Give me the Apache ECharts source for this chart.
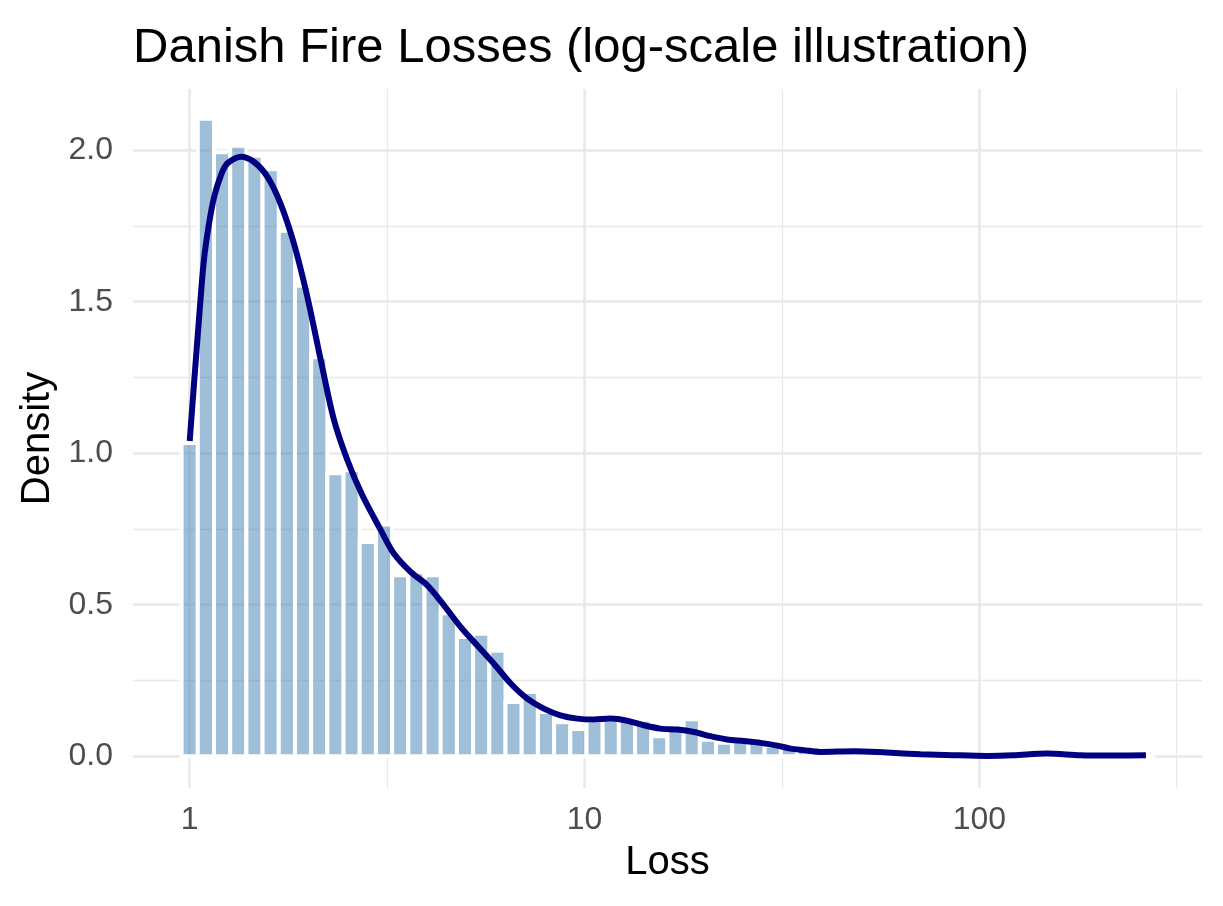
<!DOCTYPE html>
<html>
<head>
<meta charset="utf-8">
<title>Danish Fire Losses</title>
<script src="https://cdn.jsdelivr.net/npm/echarts@6/dist/echarts.min.js"></script>
<style>
  html, body { margin: 0; padding: 0; background: #fff; }
  #chart { width: 1223px; height: 906px; }
</style>
</head>
<body>
<div id="chart"></div>
<script>
// histogram on log10(loss), 60 bins, first bin centred on log10(1) = 0
var binWidth = 0.04102;
var binDensity = [
  1.034, 2.104, 1.993, 2.015, 1.982, 1.937, 1.734, 1.553, 1.317, 0.934,
  0.944, 0.707, 0.765, 0.597, 0.607, 0.597, 0.472, 0.393, 0.404, 0.348,
  0.179, 0.212, 0.146, 0.112, 0.090, 0.118, 0.120, 0.120, 0.120, 0.066,
  0.104, 0.122, 0.054, 0.044, 0.052, 0.050, 0.034, 0.027, 0.0225, 0.0113,
  0.0113, 0.0225, 0.0113, 0.0113, 0, 0.0113, 0, 0.0113, 0, 0,
  0, 0, 0, 0.0113, 0.0113, 0, 0, 0, 0, 0.0113
];

// density curve (x in log10 units)
var curveLog = [
  0.000, 0.011, 0.024, 0.036, 0.049, 0.062, 0.079, 0.095, 0.129, 0.163,
  0.197, 0.230, 0.264, 0.298, 0.332, 0.365, 0.400, 0.437, 0.484, 0.517,
  0.560, 0.602, 0.644, 0.686, 0.728, 0.770, 0.813, 0.855, 0.897, 0.939,
  0.982, 1.024, 1.066, 1.108, 1.150, 1.192, 1.235, 1.277, 1.319, 1.361,
  1.403, 1.446, 1.488, 1.522, 1.555, 1.598, 1.682, 1.766, 1.851, 1.934,
  2.020, 2.086, 2.171, 2.256, 2.339, 2.422
];
var curveDensity = [
  1.040, 1.230, 1.450, 1.637, 1.758, 1.846, 1.917, 1.956, 1.978, 1.961,
  1.912, 1.824, 1.692, 1.516, 1.307, 1.112, 0.975, 0.862, 0.746, 0.669,
  0.608, 0.564, 0.498, 0.427, 0.366, 0.306, 0.240, 0.190, 0.157, 0.135,
  0.124, 0.121, 0.124, 0.117, 0.102, 0.091, 0.088, 0.080, 0.066, 0.055,
  0.050, 0.044, 0.035, 0.025, 0.020, 0.014, 0.0165, 0.012, 0.0066, 0.0033,
  0.001, 0.003, 0.009, 0.003, 0.002, 0.003
];

var xMajor = [0, 1, 2];
var xMinor = [0.5, 1.5, 2.5];
var yMajor = [0, 0.5, 1, 1.5, 2];
var yMinor = [0.25, 0.75, 1.25, 1.75];

var font = 'Liberation Sans, Arial, Helvetica, sans-serif';

var bins = binDensity.map(function (d, i) {
  var c = i * binWidth;
  return [c - binWidth / 2, c + binWidth / 2, d];
});
var curve = curveLog.map(function (v, i) { return [v, curveDensity[i]]; });

var chart = echarts.init(document.getElementById('chart'), null, { renderer: 'canvas' });

var option = {
  backgroundColor: '#fff',
  animation: false,
  title: {
    text: 'Danish Fire Losses (log-scale illustration)',
    left: 128,
    top: 19,
    textStyle: { fontFamily: font, fontSize: 49, fontWeight: 'normal', color: '#000' }
  },
  grid: { left: 133, right: 21, top: 89, bottom: 118, containLabel: false },
  xAxis: [
    {
      type: 'value',
      min: -0.1436,
      max: 2.564,
      name: 'Loss',
      nameLocation: 'middle',
      nameGap: 55,
      nameTextStyle: { fontFamily: font, fontSize: 40, color: '#000' },
      axisLine: { show: false, onZero: false },
      axisTick: { show: false, customValues: xMajor },
      axisLabel: {
        customValues: xMajor,
        margin: 16,
        fontFamily: font, fontSize: 32, color: '#4d4d4d',
        formatter: function (v) { return String(Math.round(Math.pow(10, v))); }
      },
      splitLine: { show: true, lineStyle: { color: '#e8e8e8', width: 2.5 } }
    },
    {
      type: 'value',
      min: -0.1436,
      max: 2.564,
      position: 'top',
      axisLine: { show: false, onZero: false },
      axisTick: { show: false, customValues: xMinor },
      axisLabel: { show: false },
      splitLine: { show: true, lineStyle: { color: '#e8e8e8', width: 1.3 } }
    }
  ],
  yAxis: [
    {
      type: 'value',
      min: -0.105,
      max: 2.202,
      name: 'Density',
      nameLocation: 'middle',
      nameGap: 74,
      nameTextStyle: { fontFamily: font, fontSize: 40, color: '#000' },
      axisLine: { show: false, onZero: false },
      axisTick: { show: false, customValues: yMajor },
      axisLabel: {
        customValues: yMajor,
        margin: 20,
        fontFamily: font, fontSize: 32, color: '#4d4d4d',
        formatter: function (v) { return v.toFixed(1); }
      },
      splitLine: { show: true, lineStyle: { color: '#e8e8e8', width: 2.5 } }
    },
    {
      type: 'value',
      min: -0.105,
      max: 2.202,
      position: 'right',
      axisLine: { show: false, onZero: false },
      axisTick: { show: false, customValues: yMinor },
      axisLabel: { show: false },
      splitLine: { show: true, lineStyle: { color: '#e8e8e8', width: 1.3 } }
    }
  ],
  series: [
    {
      type: 'custom',
      name: 'histogram',
      xAxisIndex: 0,
      yAxisIndex: 0,
      data: bins,
      renderItem: function (params, api) {
        var p0 = api.coord([api.value(0), 0]);
        var p1 = api.coord([api.value(1), api.value(2)]);
        return {
          type: 'rect',
          shape: { x: p0[0], y: p1[1], width: p1[0] - p0[0], height: p0[1] - p1[1] },
          style: { fill: 'rgba(70,130,180,0.52)', stroke: '#ffffff', lineWidth: 4 }
        };
      },
      z: 2
    },
    {
      type: 'line',
      name: 'density',
      xAxisIndex: 0,
      yAxisIndex: 0,
      data: curve,
      smooth: 0.3,
      showSymbol: false,
      symbol: 'none',
      lineStyle: { color: '#000080', width: 6, cap: 'butt' },
      z: 3
    }
  ]
};

chart.setOption(option);
</script>
</body>
</html>
